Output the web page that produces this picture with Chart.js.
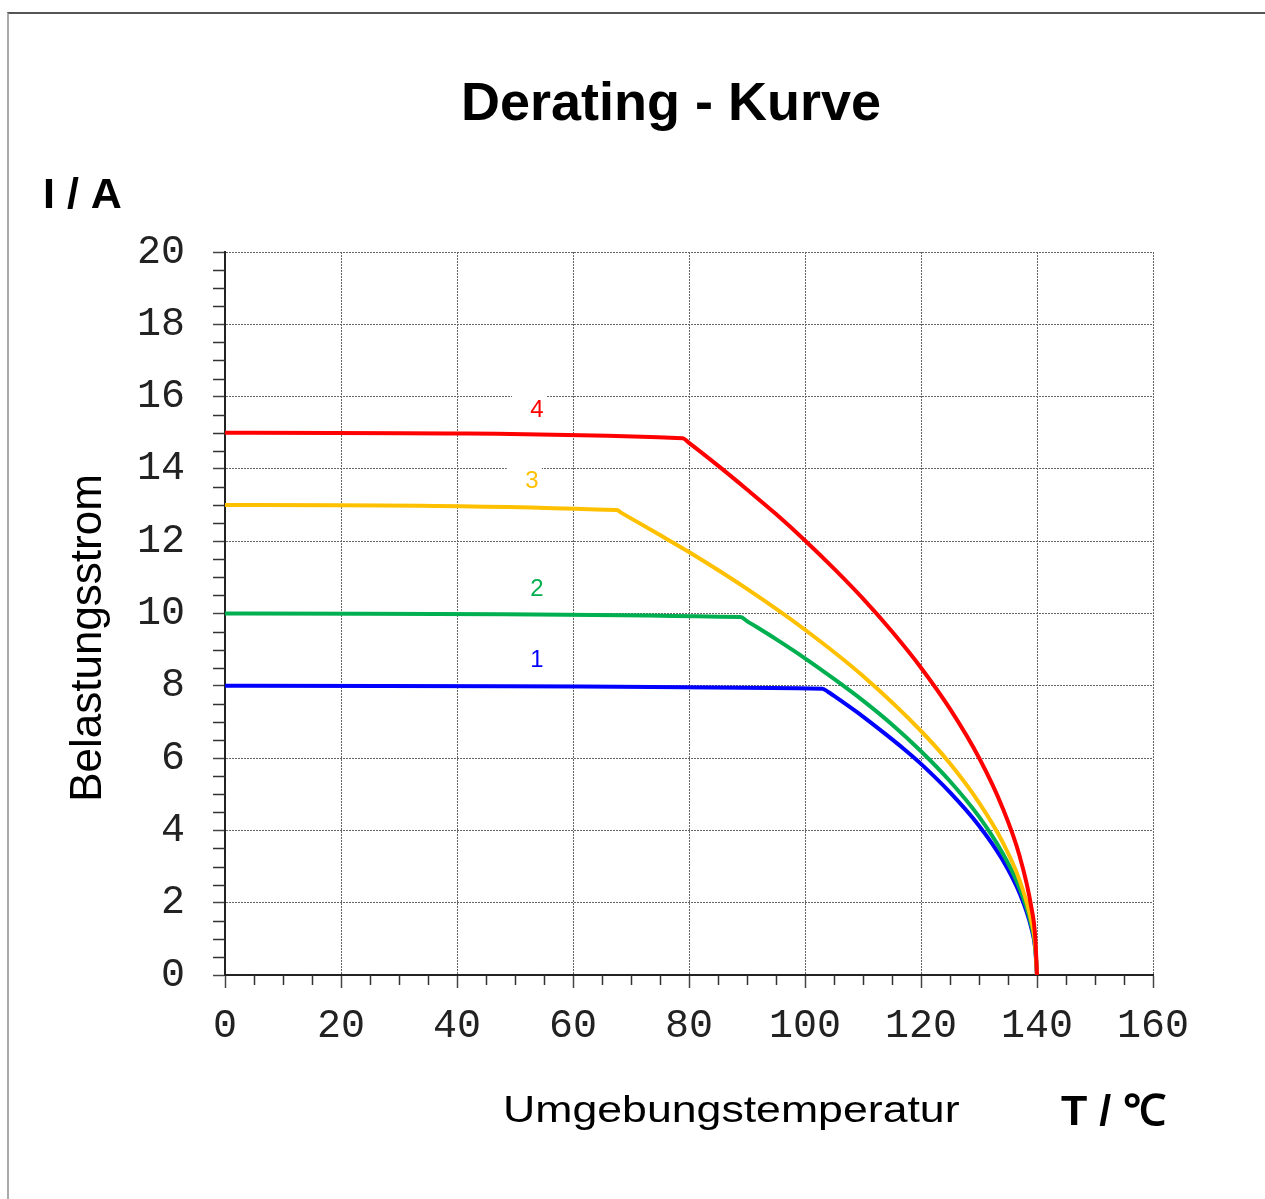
<!DOCTYPE html>
<html>
<head>
<meta charset="utf-8">
<title>Derating - Kurve</title>
<script src="https://cdn.jsdelivr.net/npm/chart.js@4.4.1/dist/chart.umd.min.js"></script>
<style>
  html, body { margin: 0; padding: 0; background: #fff; overflow: hidden; }
  #frame { position: absolute; left: 7px; top: 12px; width: 1300px; height: 1300px;
           border-top: 2px solid #555; border-left: 2px solid #aaa; }
  #chart { position: absolute; left: 0; top: 0; }
</style>
</head>
<body>
<div id="frame"></div>
<canvas id="chart" width="1265" height="1199"></canvas>
<script>
// Kurven 1..4: Temperatur (°C) und Belastungsstrom (A)
const curveNames = ['1', '2', '3', '4'];
const curveColors = ['#0000ff', '#00b050', '#ffc000', '#ff0000'];

const temp1 = [0, 103, 104, 106, 110, 114, 117, 120, 125, 130, 134, 137, 139, 139.7, 140];
const amp1  = [8.0, 7.92, 7.83, 7.61, 7.15, 6.65, 6.26, 5.84, 5.05, 4.13, 3.2, 2.26, 1.31, 0.72, 0];

const temp2 = [0, 88.9, 90, 95, 100, 105, 110, 115, 120, 125, 130, 134, 137, 139, 139.7, 140];
const amp2  = [10.0, 9.9, 9.79, 9.29, 8.76, 8.19, 7.59, 6.93, 6.19, 5.36, 4.38, 3.39, 2.4, 1.39, 0.76, 0];

const temp3 = [0, 67.5, 68.5, 75, 80, 90, 100, 110, 120, 125, 130, 134, 137, 139, 139.7, 140];
const amp3  = [13.0, 12.86, 12.77, 12.17, 11.7, 10.68, 9.55, 8.27, 6.75, 5.85, 4.77, 3.7, 2.62, 1.51, 0.83, 0];

const temp4 = [0, 78.9, 80, 85, 90, 95, 100, 105, 110, 115, 120, 125, 130, 134, 137, 139, 139.7, 140];
const amp4  = [15.0, 14.85, 14.72, 14.09, 13.43, 12.75, 12.02, 11.24, 10.41, 9.5, 8.5, 7.36, 6.01, 4.65, 3.29, 1.9, 1.04, 0];

// Position der Kurvennummern (in Achsenwerten)
const labelT = [53.8, 53.8, 52.9, 53.8];
const labelI = [8.74, 10.7, 13.69, 15.66];

const xTickValues = [0, 20, 40, 60, 80, 100, 120, 140, 160];
const yTickValues = [0, 2, 4, 6, 8, 10, 12, 14, 16, 18, 20];

function points(t, a) {
  return t.map((v, i) => ({ x: v, y: a[i] }));
}

const temps = [temp1, temp2, temp3, temp4];
const amps = [amp1, amp2, amp3, amp4];

// Reihenfolge 4,3,2,1 damit rot oben liegt
const datasets = [3, 2, 1, 0].map(i => ({
  label: curveNames[i],
  data: points(temps[i], amps[i]),
  borderColor: curveColors[i],
  borderWidth: 4,
  pointRadius: 0,
  cubicInterpolationMode: 'monotone',
  borderJoinStyle: 'round',
  borderCapStyle: 'round'
}));

const SANS = '"Liberation Sans", Arial, sans-serif';

const extras = {
  id: 'extras',
  beforeDatasetsDraw(chart) {
    const { ctx, scales: { x, y } } = chart;
    ctx.save();
    // kleine Teilstriche
    ctx.strokeStyle = '#333';
    ctx.lineWidth = 1.5;
    ctx.beginPath();
    for (let v = 0; v <= 160; v += 5) {
      if (v % 20 === 0) continue;
      const px = Math.round(x.getPixelForValue(v)) + 0.5;
      ctx.moveTo(px, y.bottom);
      ctx.lineTo(px, y.bottom + 10);
    }
    for (let v = 0; v <= 20; v += 0.5) {
      if (v % 2 === 0) continue;
      const py = Math.round(y.getPixelForValue(v)) + 0.5;
      ctx.moveTo(x.left - 12, py);
      ctx.lineTo(x.left, py);
    }
    ctx.stroke();

    // Kurvennummern mit weissem Hintergrund
    ctx.font = '24px ' + SANS;
    ctx.textAlign = 'center';
    ctx.textBaseline = 'middle';
    curveNames.forEach((n, i) => {
      const px = x.getPixelForValue(labelT[i]);
      const py = y.getPixelForValue(labelI[i]);
      ctx.fillStyle = '#fff';
      ctx.fillRect(px - 25, py - 17, 35, 32);
      ctx.fillStyle = curveColors[i];
      ctx.fillText(n, px, py + 1);
    });
    ctx.restore();
  },
  afterDraw(chart) {
    const ctx = chart.ctx;
    ctx.save();
    ctx.fillStyle = '#000';
    ctx.textBaseline = 'alphabetic';

    ctx.font = 'bold 54px ' + SANS;
    ctx.textAlign = 'center';
    ctx.fillText('Derating - Kurve', 671, 120);

    ctx.font = 'bold 43px ' + SANS;
    ctx.textAlign = 'left';
    ctx.fillText('I / A', 43, 208);
    ctx.fillText('T / ℃', 1061, 1125);

    ctx.save();
    ctx.font = '44px ' + SANS;
    ctx.textAlign = 'center';
    ctx.translate(101, 638);
    ctx.rotate(-Math.PI / 2);
    ctx.fillText('Belastungsstrom', 0, 0);
    ctx.restore();

    ctx.save();
    ctx.font = '36px ' + SANS;
    ctx.textAlign = 'left';
    ctx.translate(503, 1122);
    ctx.scale(1.24, 1);
    ctx.fillText('Umgebungstemperatur', 0, 0);
    ctx.restore();

    ctx.restore();
  }
};

const tickFont = { family: '"Liberation Mono", "Courier New", monospace', size: 40 };

new Chart(document.getElementById('chart'), {
  type: 'line',
  data: { datasets: datasets },
  options: {
    responsive: false,
    animation: false,
    layout: { padding: { left: 0, top: 252, right: 112, bottom: 0 } },
    plugins: { legend: { display: false }, tooltip: { enabled: false } },
    scales: {
      x: {
        type: 'linear',
        min: 0,
        max: 160,
        afterBuildTicks: s => { s.ticks = xTickValues.map(v => ({ value: v })); },
        afterFit: s => { s.height = 224; },
        ticks: { font: tickFont, color: '#222', padding: 14, maxRotation: 0 },
        grid: { color: '#666', lineWidth: 1, tickLength: 13, tickColor: '#444', tickWidth: 1.5 },
        border: { display: true, color: '#222', width: 2, dash: [2, 1] }
      },
      y: {
        type: 'linear',
        min: 0,
        max: 20,
        afterBuildTicks: s => { s.ticks = yTickValues.map(v => ({ value: v })); },
        afterFit: s => { s.width = 225; },
        ticks: { font: tickFont, color: '#222', padding: 28 },
        grid: { color: '#666', lineWidth: 1, tickLength: 12, tickColor: '#444', tickWidth: 1.5 },
        border: { display: true, color: '#222', width: 2, dash: [2, 1] }
      }
    }
  },
  plugins: [extras]
});
</script>
</body>
</html>
